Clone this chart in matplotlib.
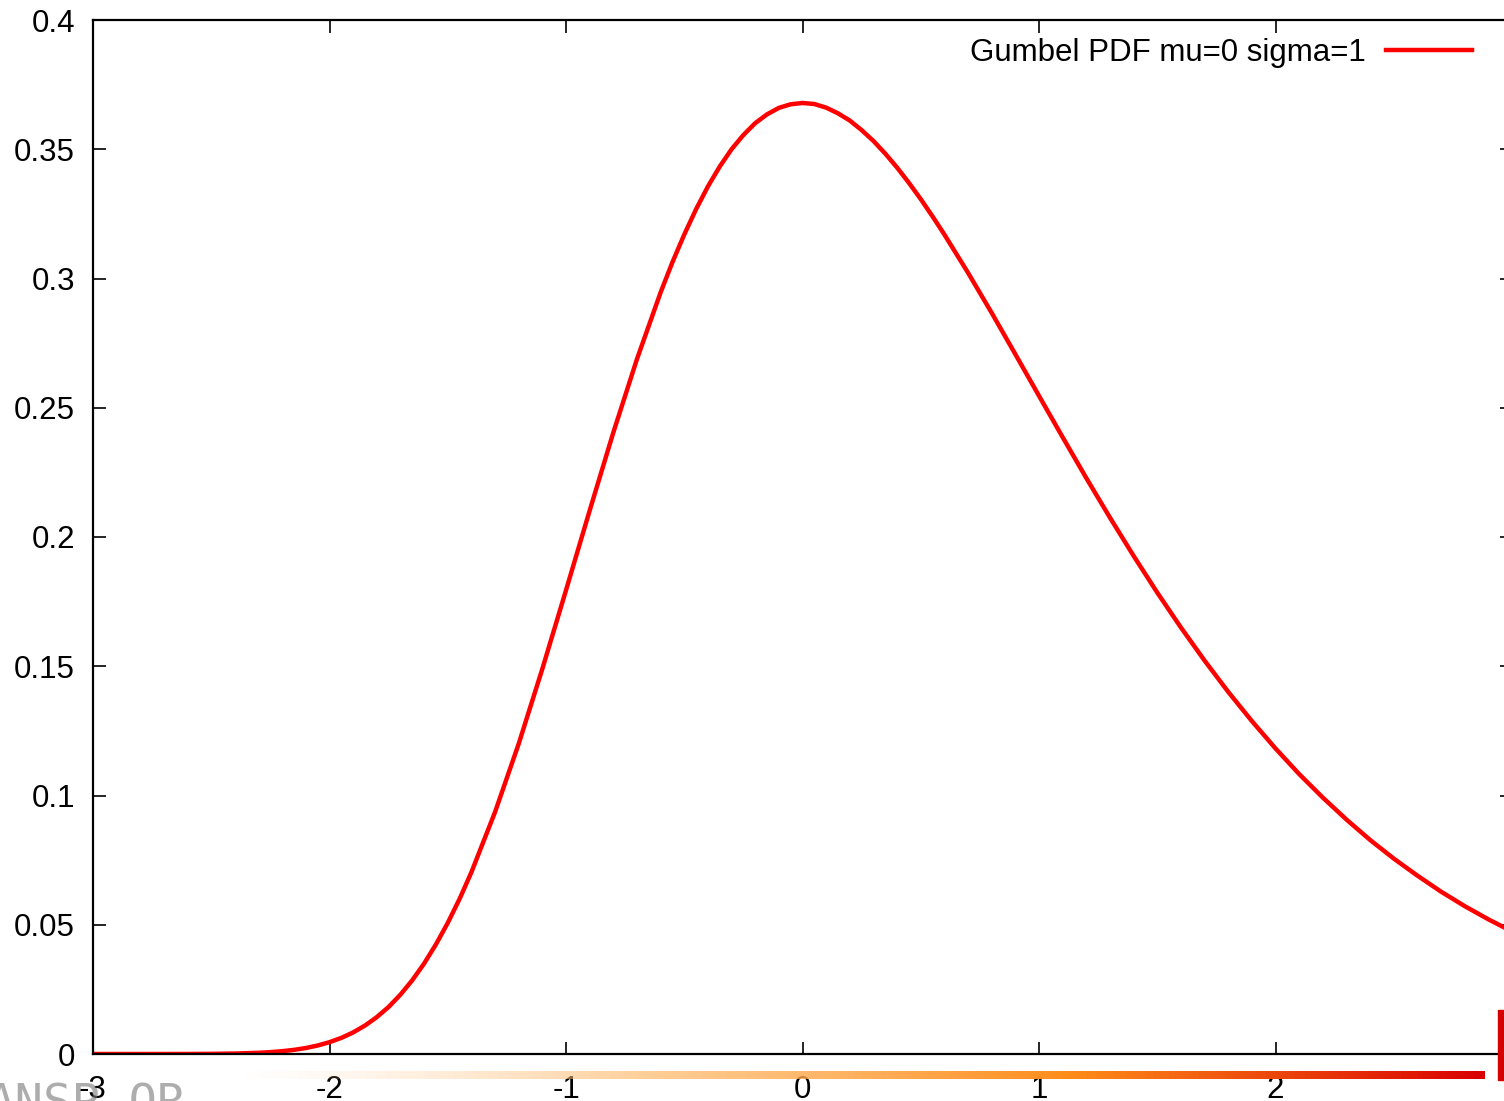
import matplotlib
matplotlib.use('Agg')
import matplotlib.pyplot as plt
import numpy as np
from matplotlib.colors import LinearSegmentedColormap

plt.rcParams['font.family'] = ['Liberation Sans', 'DejaVu Sans']

# 곡선 값
x_vals = [-3.0, -2.9, -2.8, -2.7, -2.6, -2.5, -2.4, -2.3, -2.25, -2.2, -2.15, -2.1,
          -2.05, -2.0, -1.95, -1.9, -1.85, -1.8, -1.75, -1.7, -1.65, -1.6, -1.55, -1.5, -1.45, -1.4,
          -1.3, -1.2, -1.1, -1.0, -0.9, -0.8, -0.7, -0.6, -0.55, -0.5, -0.45, -0.4, -0.35,
          -0.3, -0.25, -0.2, -0.15, -0.1, -0.05, 0.0, 0.05, 0.1, 0.15, 0.2, 0.25, 0.3, 0.35,
          0.4, 0.45, 0.5, 0.55, 0.6, 0.7, 0.8, 0.9,
          1.0, 1.1, 1.2, 1.3, 1.4, 1.5, 1.6, 1.7, 1.8, 1.9,
          2.0, 2.1, 2.2, 2.3, 2.4, 2.5, 2.6, 2.7, 2.8, 2.9, 3.0]
y_vals = [0.0, 0.0, 0.000001, 0.000005, 0.00002, 0.00006, 0.00018, 0.00046, 0.00072, 0.00109, 0.00160, 0.00232,
          0.00329, 0.00457, 0.00623, 0.00835, 0.01100, 0.01427, 0.0182, 0.02297, 0.02853, 0.03499, 0.0424, 0.0507, 0.0600, 0.0703,
          0.0936, 0.1200, 0.1490, 0.1794, 0.2102, 0.2404, 0.2688, 0.2946, 0.3063, 0.3170, 0.3268, 0.3356, 0.3433,
          0.3500, 0.3555, 0.3601, 0.3635, 0.3660, 0.3674, 0.3679, 0.3675, 0.3661, 0.3639, 0.3611, 0.3574, 0.3532, 0.3483,
          0.3429, 0.3370, 0.3307, 0.3240, 0.3170, 0.3022, 0.2867, 0.2707,
          0.2546, 0.2386, 0.2228, 0.2075, 0.1927, 0.1785, 0.1650, 0.1522, 0.1401, 0.1288,
          0.1182, 0.1083, 0.0992, 0.0907, 0.0828, 0.0756, 0.0690, 0.0628, 0.0572, 0.0521, 0.0474]
x_ticks = [-3, -2, -1, 0, 1, 2, 3]
y_ticks = [0, 0.05, 0.1, 0.15, 0.2, 0.25, 0.3, 0.35, 0.4]
y_labels = ['0', '0.05', '0.1', '0.15', '0.2', '0.25', '0.3', '0.35', '0.4']
label = 'Gumbel PDF mu=0 sigma=1'

W, H = 1504, 1101
fig = plt.figure(figsize=(W / 100, H / 100), dpi=100)
# 축 오른쪽 끝은 그림 밖(약 1512px)
ax = fig.add_axes([93 / W, (H - 1054) / H, (1512 - 93) / W, (1054 - 20) / H])

ax.plot(x_vals, y_vals, color='#ff0000', lw=3.2, label=label, solid_joinstyle='round')
ax.set_xlim(-3, 3)
ax.set_ylim(0, 0.4)
ax.set_xticks(x_ticks)
ax.set_xticklabels([str(t) for t in x_ticks])
ax.set_yticks(y_ticks)
ax.set_yticklabels(y_labels)
ax.tick_params(direction='in', length=9, width=1.2, labelsize=22.5,
               top=True, right=True, pad=13, colors='black')
ax.tick_params(axis='x', pad=15)
for s in ax.spines.values():
    s.set_linewidth(1.6)

leg = ax.legend(loc='upper right', bbox_to_anchor=((1473 - 93) / (1512 - 93) + 0.008, 0.995),
                frameon=False, markerfirst=False, fontsize=22.5, handlelength=2.75,
                handletextpad=0.65, borderaxespad=0)

# 아래쪽 워터마크 흔적
grad = np.linspace(0, 1, 256).reshape(1, -1)
cmap = LinearSegmentedColormap.from_list('wm', [(1, 0.85, 0.7, 0.0), (1, 0.72, 0.4, 0.7),
                                                 (1, 0.55, 0.1, 1.0), (0.85, 0.0, 0.0, 1.0)])
gax = fig.add_axes([240 / W, (H - 1079) / H, (1485 - 240) / W, 8 / H])
gax.imshow(grad, aspect='auto', cmap=cmap)
gax.axis('off')
fig.patches.append(plt.Rectangle((1498 / W, (H - 1080) / H), 6 / W, 70 / H,
                                 transform=fig.transFigure, color='#d40000', zorder=5))
fig.text(-14 / W, (H - 1118) / H, 'ANSP-OR', fontsize=34, color='#777777', alpha=0.6,
         family='DejaVu Sans Mono', zorder=0)

fig.savefig('out.png', dpi=100)
